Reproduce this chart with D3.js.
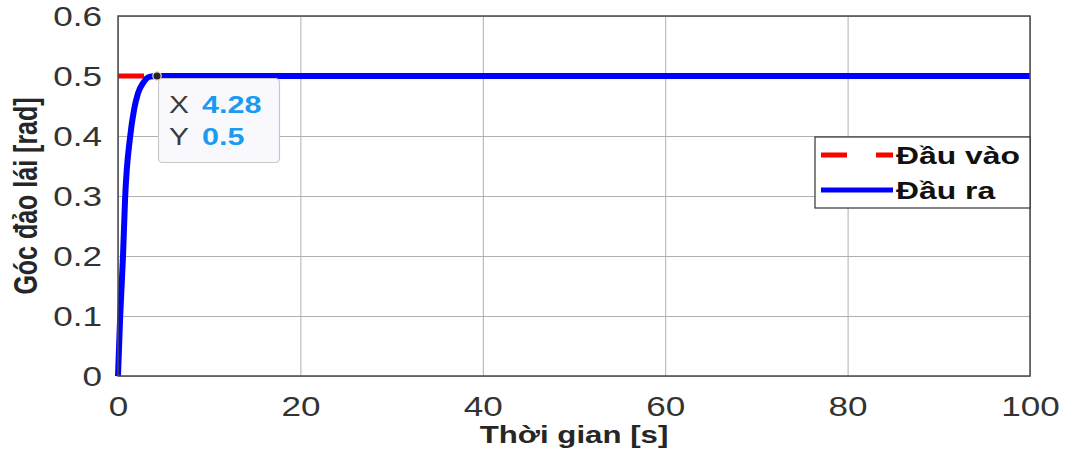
<!DOCTYPE html>
<html>
<head>
<meta charset="utf-8">
<script src="https://cdn.jsdelivr.net/npm/d3@7"></script>
<style>
  html, body { margin: 0; padding: 0; background: #fff; }
  svg { display: block; }
  text { font-family: "Liberation Sans", Arial, sans-serif; }
</style>
</head>
<body>
<svg id="chart" width="1072" height="463"></svg>
<script>
// Step input and steering-angle response
const inputT = [0, 100];
const inputY = [0.5, 0.5];
const outputT = [0, 0.24, 0.55, 0.77, 1.34, 1.75, 2.19, 2.74, 3.5, 4.28, 100];
const outputY = [0, 0.1, 0.2, 0.293, 0.4, 0.443, 0.471, 0.488, 0.499, 0.5, 0.5];

const xTicks = [0, 20, 40, 60, 80, 100];
const yTicks = [0, 0.1, 0.2, 0.3, 0.4, 0.5, 0.6];

const seriesNames = ["Đầu vào", "Đầu ra"];
const xTitle = "Thời gian [s]";
const yTitle = "Góc đảo lái [rad]";

// Data tip
const tipX = 4.28;
const tipY = 0.5;

const m = { left: 118, right: 1030, top: 16, bottom: 376 };
const SX = 1.3; // horizontal text stretch

const svg = d3.select("#chart");
const x = d3.scaleLinear().domain([0, 100]).range([m.left, m.right]);
const y = d3.scaleLinear().domain([0, 0.6]).range([m.bottom, m.top]);

svg.append("rect").attr("x", m.left).attr("y", m.top)
  .attr("width", m.right - m.left).attr("height", m.bottom - m.top)
  .attr("fill", "#fff");

// grid + tick labels
const gx = svg.append("g").attr("transform", `translate(0,${m.bottom})`)
  .call(d3.axisBottom(x).tickValues(xTicks).tickSizeInner(-(m.bottom - m.top)).tickSizeOuter(0).tickPadding(0));
gx.select(".domain").remove();
gx.selectAll(".tick line").attr("stroke", "#b0b0b0").attr("stroke-width", 1);
gx.selectAll(".tick text")
  .text(d => d3.format("d")(d))
  .attr("y", 40).attr("dy", 0)
  .attr("transform", `scale(${SX},1)`)
  .attr("font-size", 27).attr("fill", "#333")
  .attr("font-family", "Liberation Sans, Arial, sans-serif");

const gy = svg.append("g").attr("transform", `translate(${m.left},0)`)
  .call(d3.axisLeft(y).tickValues(yTicks).tickSizeInner(-(m.right - m.left)).tickSizeOuter(0).tickPadding(0));
gy.select(".domain").remove();
gy.selectAll(".tick line").attr("stroke", "#b0b0b0").attr("stroke-width", 1);
gy.selectAll(".tick text")
  .text(d => d === 0 ? "0" : d3.format(".1f")(d))
  .attr("x", -16 / SX).attr("dy", "0.36em")
  .attr("transform", `scale(${SX},1)`)
  .attr("font-size", 27).attr("fill", "#333")
  .attr("font-family", "Liberation Sans, Arial, sans-serif");

// lines
svg.append("clipPath").attr("id", "plotclip").append("rect")
  .attr("x", m.left - 4).attr("y", m.top).attr("width", m.right - m.left + 4).attr("height", m.bottom - m.top);

const lineIn = d3.line().x(d => x(d[0])).y(d => y(d[1]));
const lineOut = d3.line().x(d => x(d[0])).y(d => y(d[1])).curve(d3.curveMonotoneX);

const plot = svg.append("g").attr("clip-path", "url(#plotclip)");
plot.append("path")
  .datum(d3.zip(inputT, inputY))
  .attr("d", lineIn)
  .attr("fill", "none").attr("stroke", "#ff0000").attr("stroke-width", 5)
  .attr("stroke-dasharray", "26,29");
plot.append("path")
  .datum(d3.zip(outputT, outputY))
  .attr("d", lineOut)
  .attr("fill", "none").attr("stroke", "#0000ff").attr("stroke-width", 6)
  .attr("stroke-linejoin", "round");

// axes box
svg.append("rect").attr("x", m.left).attr("y", m.top)
  .attr("width", m.right - m.left).attr("height", m.bottom - m.top)
  .attr("fill", "none").attr("stroke", "#4a4a4a").attr("stroke-width", 1.5);

// axis titles
svg.append("text")
  .attr("transform", `translate(${(m.left + m.right) / 2},443) scale(${SX},1)`)
  .attr("text-anchor", "middle").attr("font-size", 24).attr("font-weight", "bold")
  .attr("fill", "#262626").text(xTitle);
svg.append("text")
  .attr("transform", `translate(37,${(m.top + m.bottom) / 2}) scale(${SX},1) rotate(-90)`)
  .attr("text-anchor", "middle").attr("font-size", 25).attr("font-weight", "bold")
  .attr("fill", "#262626").text(yTitle);

// legend
const lg = svg.append("g");
lg.append("rect").attr("x", 815).attr("y", 137).attr("width", 215).attr("height", 71)
  .attr("fill", "#fff").attr("stroke", "#333").attr("stroke-width", 1.2);
const legendColors = ["#ff0000", "#0000ff"];
const legendDash = ["26,29", null];
seriesNames.forEach((name, i) => {
  const cy = 155 + i * 35;
  lg.append("line").attr("x1", 821).attr("x2", 893).attr("y1", cy).attr("y2", cy)
    .attr("stroke", legendColors[i]).attr("stroke-width", 5)
    .attr("stroke-dasharray", legendDash[i]);
  lg.append("text")
    .attr("transform", `translate(896,${cy + 9}) scale(${SX},1)`)
    .attr("font-size", 24.5).attr("font-weight", "bold").attr("fill", "#111")
    .text(name);
});

// data tip
const tg = svg.append("g");
tg.append("rect").attr("x", 158.5).attr("y", 78.5).attr("width", 121).attr("height", 84)
  .attr("rx", 4).attr("fill", "#f9f9fd").attr("stroke", "#c8c8cc").attr("stroke-width", 1.2);
const tipRows = [["X", d3.format(".2f")(tipX)], ["Y", String(tipY)]];
tipRows.forEach((r, i) => {
  const by = 113 + i * 32;
  tg.append("text").attr("transform", `translate(169,${by}) scale(${SX},1)`)
    .attr("font-size", 23).attr("fill", "#3c3c3c").text(r[0]);
  tg.append("text").attr("transform", `translate(202,${by}) scale(${SX},1)`)
    .attr("font-size", 23.5).attr("font-weight", "bold").attr("fill", "#1a9bf2").text(r[1]);
});
tg.append("circle").attr("cx", x(tipX)).attr("cy", y(tipY)).attr("r", 4.2)
  .attr("fill", "#262626").attr("stroke", "#e8e6b8").attr("stroke-width", 1.2);
</script>
</body>
</html>
